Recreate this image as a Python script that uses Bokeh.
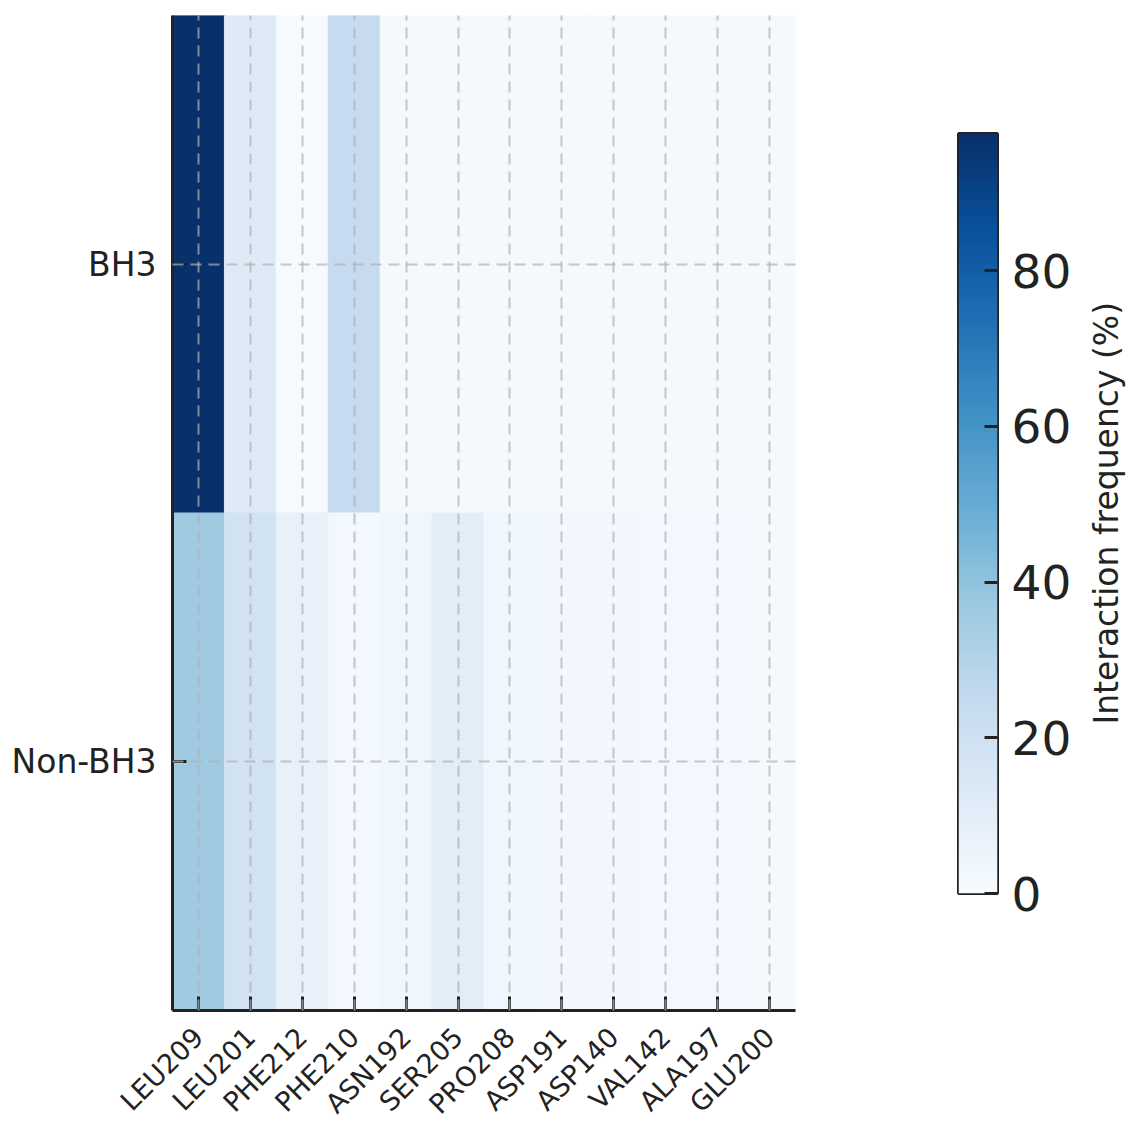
import math
import numpy as np
from bokeh.plotting import figure
from bokeh.layouts import row
from bokeh.models import (ColumnDataSource, FactorRange, Range1d, LinearColorMapper,
                          FixedTicker, LinearAxis, Label)
from bokeh.palettes import Blues256
from bokeh.transform import transform
from bokeh.embed import file_html
from bokeh.resources import INLINE

# Residues on the x axis and peptide groups on the y axis
residues = ["LEU209", "LEU201", "PHE212", "PHE210", "ASN192", "SER205",
            "PRO208", "ASP191", "ASP140", "VAL142", "ALA197", "GLU200"]
groups = ["Non-BH3", "BH3"]

# Interaction frequency (%) per residue for each group
bh3_freq = [97.6, 12.5, 0.5, 24.5, 1.8, 1.8, 1.8, 1.8, 1.8, 1.8, 1.8, 1.8]
non_bh3_freq = [36.5, 19.0, 7.5, 2.5, 3.5, 10.5, 3.5, 3.0, 3.0, 2.5, 2.0, 1.8]

cbar_ticks = [0, 20, 40, 60, 80]
cbar_title = "Interaction frequency (%)"

FONT = "DejaVu Sans"
INK = "#222222"

xs, ys, vals = [], [], []
for g, series in (("BH3", bh3_freq), ("Non-BH3", non_bh3_freq)):
    for r, v in zip(residues, series):
        xs.append(r)
        ys.append(g)
        vals.append(v)
src = ColumnDataSource(dict(res=xs, grp=ys, val=vals))

vmax = max(bh3_freq + non_bh3_freq)
palette = list(reversed(Blues256))
mapper = LinearColorMapper(palette=palette, low=0, high=vmax)

# ---- heatmap ----
p = figure(frame_width=623, frame_height=995,
           x_range=FactorRange(*residues, range_padding=0),
           y_range=FactorRange(*groups, range_padding=0),
           output_backend="svg", toolbar_location=None,
           min_border_left=172, min_border_right=55, min_border_top=15,
           min_border_bottom=112, frame_align=False)
p.outline_line_color = None
p.rect(x="res", y="grp", width=1, height=1, source=src,
       fill_color=transform("val", mapper), line_color=transform("val", mapper),
       line_width=1)

for grid in (p.xgrid, p.ygrid):
    grid.grid_line_color = "#b0b0b0"
    grid.grid_line_alpha = 0.7
    grid.grid_line_width = 2
    grid.grid_line_dash = "11 7"
    grid.level = "annotation"

for ax in (p.xaxis, p.yaxis):
    ax.axis_line_color = INK
    ax.axis_line_width = 3
    ax.major_tick_line_color = INK
    ax.major_tick_line_width = 3
    ax.major_tick_in = 14
    ax.major_tick_out = 0
    ax.minor_tick_line_color = None
    ax.major_label_text_font = FONT
    ax.major_label_text_color = INK
p.yaxis.major_label_text_font_size = "33px"
p.yaxis.major_label_standoff = 16
p.xaxis.major_label_text_font_size = "27px"
p.xaxis.major_label_orientation = math.pi / 4
p.xaxis.major_label_standoff = 22

# ---- colour bar ----
ramp = np.linspace(0, vmax, 256).reshape(-1, 1)
cb = figure(frame_width=39, frame_height=760,
            x_range=Range1d(0, 1), y_range=Range1d(0, vmax),
            output_backend="svg", toolbar_location=None,
            x_axis_location=None, y_axis_location=None,
            min_border_left=108, min_border_right=76, min_border_top=133,
            min_border_bottom=229, frame_align=False)
cb.image(image=[ramp], x=0, y=0, dw=1, dh=vmax, color_mapper=mapper)
cb.grid.visible = False
cb.outline_line_color = INK
cb.outline_line_width = 3

cax = LinearAxis(ticker=FixedTicker(ticks=cbar_ticks))
cax.axis_line_color = None
cax.major_tick_line_color = INK
cax.major_tick_line_width = 3
cax.major_tick_in = 13
cax.major_tick_out = 0
cax.minor_tick_line_color = None
cax.major_label_text_font = FONT
cax.major_label_text_font_size = "47px"
cax.major_label_text_color = INK
cax.major_label_standoff = 14
cb.add_layout(cax, "right")

# ---- colour bar title, reading upwards ----
tp = figure(frame_width=54, frame_height=1122, x_range=Range1d(0, 1), y_range=Range1d(0, 1),
            output_backend="svg", toolbar_location=None,
            x_axis_location=None, y_axis_location=None,
            min_border=0, frame_align=False)
tp.grid.visible = False
tp.outline_line_color = None
tp.add_layout(Label(x=0.6, y=0.543, text=cbar_title, angle=math.pi / 2,
                    text_align="center", text_baseline="middle",
                    text_font=FONT, text_font_size="33px", text_color=INK))

layout = row(p, cb, tp)
open("out.html", "w").write(file_html(layout, INLINE))
